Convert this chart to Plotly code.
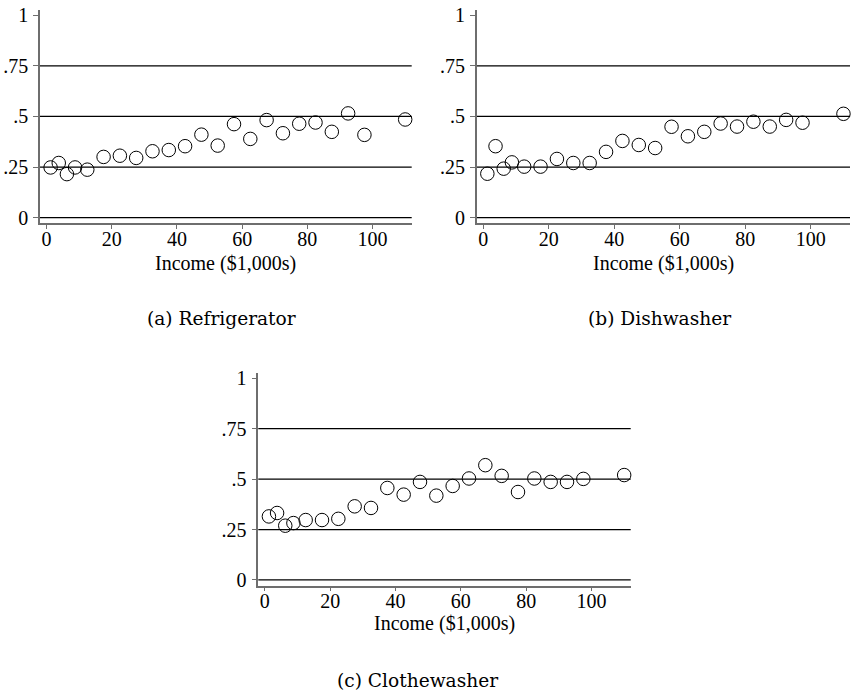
import plotly.graph_objects as go

# Income bin midpoints ($1,000s)
income = [1.25, 3.75, 6.25, 8.75, 12.5, 17.5, 22.5, 27.5, 32.5, 37.5, 42.5, 47.5,
          52.5, 57.5, 62.5, 67.5, 72.5, 77.5, 82.5, 87.5, 92.5, 97.5, 110]

refrigerator = [0.248, 0.270, 0.215, 0.248, 0.237, 0.300, 0.306, 0.295, 0.328, 0.334,
                0.353, 0.410, 0.356, 0.462, 0.389, 0.482, 0.417, 0.464, 0.470, 0.424,
                0.515, 0.409, 0.485]
dishwasher = [0.217, 0.353, 0.242, 0.273, 0.252, 0.252, 0.290, 0.270, 0.270, 0.325,
              0.379, 0.359, 0.344, 0.449, 0.402, 0.424, 0.465, 0.450, 0.474, 0.450,
              0.483, 0.469, 0.513]
clothewasher = [0.315, 0.332, 0.269, 0.282, 0.297, 0.297, 0.303, 0.365, 0.357, 0.456,
                0.423, 0.486, 0.418, 0.466, 0.503, 0.569, 0.516, 0.436, 0.503, 0.486,
                0.486, 0.501, 0.520]

captions = ["(a) Refrigerator", "(b) Dishwasher", "(c) Clothewasher"]
x_title = "Income ($1,000s)"
x_ticks = [0, 20, 40, 60, 80, 100]
y_ticks = [0, 0.25, 0.5, 0.75, 1]
y_ticktext = ["0", ".25", ".5", ".75", "1"]
grid_vals = [0, 0.25, 0.5, 0.75]

W, H = 852, 696

# panel pixel boxes: (left, right, top, bottom)
boxes = [(40, 411.7, 10, 223.3), (476.7, 850, 10, 223.3), (258.3, 630.7, 373, 585.6)]
caption_pos = [(221.5, 318), (659.5, 318), (417, 680)]
xtitle_y = [263, 263, 623]

TICK_FONT = dict(family="Liberation Serif, Times New Roman, serif", size=20, color="black")
CAP_FONT = dict(family="DejaVu Serif, serif", size=18.6, color="black")
AXIS_COLOR = "#6e6e6e"

fig = go.Figure()
series = [refrigerator, dishwasher, clothewasher]
shapes = []
annotations = []
layout = dict(width=W, height=H, margin=dict(l=0, r=0, t=0, b=0),
              paper_bgcolor="white", plot_bgcolor="white", showlegend=False)

for i, (vals, box) in enumerate(zip(series, boxes)):
    n = "" if i == 0 else str(i + 1)
    fig.add_trace(go.Scatter(
        x=income, y=vals, mode="markers", xaxis="x" + n, yaxis="y" + n,
        marker=dict(symbol="circle-open", size=13.5, color="black", line=dict(width=1, color="black")),
        cliponaxis=False, hoverinfo="skip"))
    l, r, t, b = box
    layout["xaxis" + n] = dict(
        domain=[l / W, r / W], anchor="y" + n, range=[-2, 112],
        tickvals=x_ticks, ticks="outside", ticklen=4, tickcolor=AXIS_COLOR, tickwidth=1,
        showgrid=False, zeroline=False, showline=True, linecolor=AXIS_COLOR, linewidth=1.5,
        tickfont=TICK_FONT, ticklabelstandoff=-7,
        automargin=False, fixedrange=True)
    layout["yaxis" + n] = dict(
        domain=[1 - b / H, 1 - t / H], anchor="x" + n, range=[-0.028, 1.026],
        tickvals=y_ticks, ticktext=y_ticktext, ticks="outside", ticklen=5,
        tickcolor=AXIS_COLOR, tickwidth=1,
        showgrid=False, zeroline=False, showline=True, linecolor=AXIS_COLOR, linewidth=1.5,
        tickfont=TICK_FONT, automargin=False, fixedrange=True, ticklabelstandoff=1)
    for g in grid_vals:
        shapes.append(dict(type="line", xref="x" + n + " domain", yref="y" + n,
                           x0=0, x1=1, y0=g, y1=g, line=dict(color="black", width=1.2),
                           layer="below"))
    annotations.append(dict(text=x_title, xref="x" + n + " domain", yref="paper",
                            x=0.5, y=1 - xtitle_y[i] / H, xanchor="center", yanchor="middle",
                            showarrow=False, font=TICK_FONT))
    cx, cy = caption_pos[i]
    annotations.append(dict(text=captions[i], xref="paper", yref="paper",
                            x=cx / W, y=1 - cy / H, xanchor="center", yanchor="middle",
                            showarrow=False, font=CAP_FONT))

layout["shapes"] = shapes
layout["annotations"] = annotations
fig.update_layout(**layout)
fig.write_html("out.html", config={"displayModeBar": False},
               post_script="document.body.style.margin='0';document.body.style.overflow='hidden';")
